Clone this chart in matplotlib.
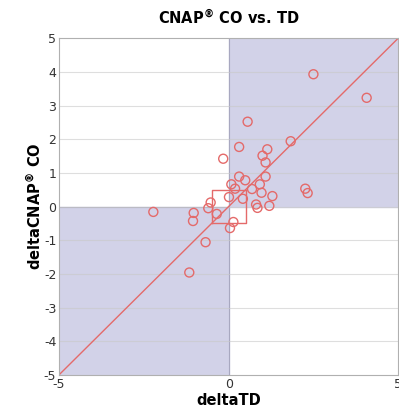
import matplotlib
matplotlib.use('Agg')
import matplotlib.pyplot as plt
import numpy as np

# deltaTD vs deltaCNAP CO
delta_td = [0.56, 1.83, 0.31, 1.14, -0.16, 1.00, 1.09, 0.31, 1.09, 0.49,
            0.08, 0.92, 0.19, 0.69, 0.97, 2.26, 2.33, 1.29, 0.01, 0.42,
            -0.53, 0.81, 0.85, 1.20, -0.60, -2.22, -1.03, -0.35, -1.05, 0.14,
            0.04, -0.68, -1.16, 2.50, 4.07]
delta_cnap = [2.52, 1.94, 1.77, 1.70, 1.42, 1.51, 1.31, 0.89, 0.89, 0.78,
              0.66, 0.66, 0.53, 0.52, 0.41, 0.53, 0.40, 0.31, 0.28, 0.23,
              0.12, 0.06, -0.04, 0.02, -0.05, -0.16, -0.19, -0.22, -0.43, -0.46,
              -0.64, -1.06, -1.96, 3.93, 3.23]
lim = 5
box = 0.5

plt.rcParams['mathtext.default'] = 'regular'
plt.rcParams['axes.unicode_minus'] = False
fig = plt.figure(figsize=(3.99, 4.11), dpi=100)
ax = fig.add_axes([0.148, 0.088, 0.85, 0.819])

shade = '#d2d2e8'
ax.fill_between([0, lim], 0, lim, color=shade, zorder=0)
ax.fill_between([-lim, 0], -lim, 0, color=shade, zorder=0)
ax.plot([0, 0], [-lim, lim], color='#a8a8c0', lw=0.8, zorder=1)
ax.plot([-lim, 0], [0, 0], color='#a8a8c0', lw=0.8, zorder=1)

for yv in range(-4, 5):
    ax.axhline(yv, color='#c8c8c8', lw=0.8, alpha=0.6, zorder=1)

red = '#e46a6a'
ax.plot([-lim, lim], [-lim, lim], color=red, lw=1.0, zorder=2)
ax.plot([-box, box, box, -box, -box], [-box, -box, box, box, -box],
        color=red, lw=1.0, zorder=2)
ax.scatter(delta_td, delta_cnap, s=42, facecolors='none', edgecolors=red,
           linewidths=1.0, zorder=3)

ax.set_xlim(-lim, lim)
ax.set_ylim(-lim, lim)
ax.set_xticks([-5, 0, 5])
ax.set_yticks(range(-5, 6))
ax.tick_params(length=0, labelsize=9, colors='#333333', pad=2)
for s in ax.spines.values():
    s.set_color('#b0b0b0')
    s.set_linewidth(0.8)

ax.set_title('CNAP$^{®}$ CO vs. TD', fontsize=10.5, fontweight='bold', pad=10)
ax.set_xlabel('deltaTD', fontsize=10.5, fontweight='bold', labelpad=2)
ax.set_ylabel('deltaCNAP$^{®}$ CO', fontsize=10.5, fontweight='bold', labelpad=0)

fig.savefig('out.png', dpi=100)
